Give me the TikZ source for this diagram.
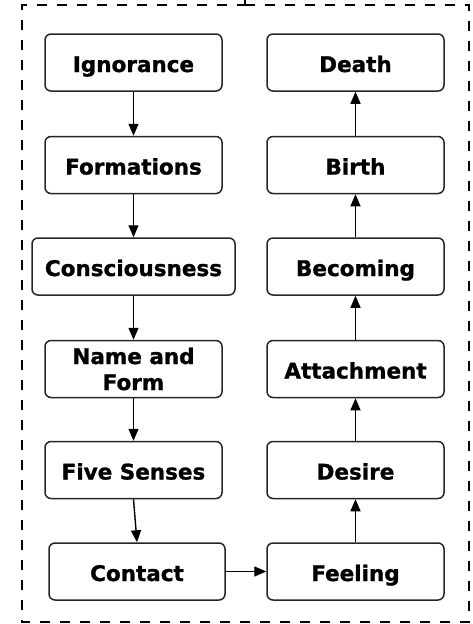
\documentclass[tikz,border=0pt]{standalone}
\usepackage{fontspec}
\setmainfont{DejaVu Sans}
\newfontfamily\heavyfont{DejaVu Sans Bold}[FakeBold=1.2]
\usetikzlibrary{arrows.meta}
\begin{document}
\begin{tikzpicture}[x=1pt,y=-1pt,
  stage/.style={draw=black!85, line width=1.5pt, rounded corners=6pt,
    minimum width=177pt, minimum height=57pt, inner sep=0pt, align=center,
    text height=20pt, text depth=1pt,
    font=\fontsize{21.5}{26}\selectfont\heavyfont},
  link/.style={line width=1.4pt, -{Triangle[length=12pt,width=10pt]}},
  frame/.style={line width=1.3pt, dash pattern=on 10pt off 10pt}]
\useasboundingbox (0,0) rectangle (472,624);
\draw[frame] (245,5) -- (469,5) -- (469,622) -- (22,622) -- (22,5) -- (245,5);
\draw[line width=1.3pt] (245,0) -- (245,5);
% left column
\node[stage] (ign) at (133.5,62.5) {Ignorance};
\node[stage] (form) at (133.5,165) {Formations};
\node[stage, minimum width=203pt] (cons) at (133.5,266.5) {Consciousness};
\node[stage, text height=, text depth=] (nf) at (133.5,369) {Name and\\Form};
\node[stage] (five) at (133.5,470) {Five Senses};
\node[stage, minimum width=176pt] (cont) at (137,571.5) {Contact};
% right column
\node[stage] (feel) at (355.5,571.5) {Feeling};
\node[stage] (des) at (355.5,470) {Desire};
\node[stage] (att) at (355.5,369) {Attachment};
\node[stage] (bec) at (355.5,266.5) {Becoming};
\node[stage] (bir) at (355.5,165) {Birth};
\node[stage] (dea) at (355.5,62.5) {Death};
% connectors
\draw[link] (ign) -- (form);
\draw[link] (form) -- (cons);
\draw[link] (cons) -- (nf);
\draw[link] (nf) -- (five);
\draw[link] (five.south) -- (cont.north);
\draw[link] (cont) -- (feel);
\draw[link] (feel) -- (des);
\draw[link] (des) -- (att);
\draw[link] (att) -- (bec);
\draw[link] (bec) -- (bir);
\draw[link] (bir) -- (dea);
\end{tikzpicture}
\end{document}
